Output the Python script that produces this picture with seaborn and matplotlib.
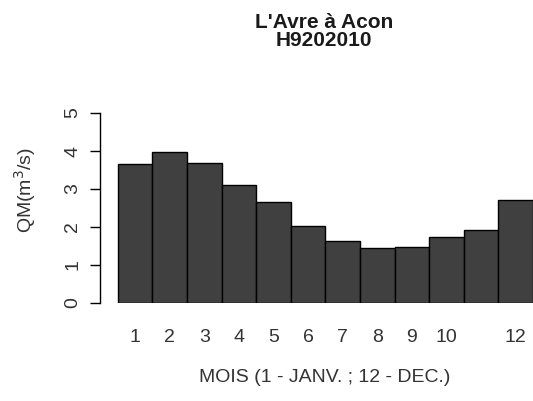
import matplotlib
matplotlib.use("Agg")
import matplotlib.pyplot as plt
import seaborn as sns
import pandas as pd

# monthly mean discharge (m3/s)
months = ["1", "2", "3", "4", "5", "6", "7", "8", "9", "10", "11", "12"]
qm = [3.65, 3.98, 3.69, 3.10, 2.67, 2.03, 1.63, 1.44, 1.48, 1.74, 1.93, 2.71]
# R dropped the "11" label because it would overlap
tick_labels = ["1", "2", "3", "4", "5", "6", "7", "8", "9", "10", "", "12"]
y_ticks = [0, 1, 2, 3, 4, 5]

title_1 = "L'Avre à Acon"
title_2 = "H9202010"

sns.set_style("white")
plt.rcParams["font.family"] = ["Liberation Sans", "DejaVu Sans"]
txt = "#333333"
fs = 14

df = pd.DataFrame({"mois": months, "qm": qm})

W, H = 533, 401
fig = plt.figure(figsize=(W / 100, H / 100), dpi=100)

# pixel geometry of the plot region
px_left, px_right = 100, 548
px_zero, unit = 303, 38.0
bar_w = 34.6
bar0_left = 117.7
ytop = 5.2

ax = fig.add_axes([px_left / W, (H - px_zero) / H,
                   (px_right - px_left) / W, ytop * unit / H])

sns.barplot(data=df, x="mois", y="qm", order=months, color="#404040",
            saturation=1, width=1, edgecolor="black", linewidth=1.0, ax=ax)

xl = -0.5 - (bar0_left - px_left) / bar_w
ax.set_xlim(xl, xl + (px_right - px_left) / bar_w)
ax.set_ylim(0, ytop)

for s in ["top", "right", "bottom"]:
    ax.spines[s].set_visible(False)
ax.spines["left"].set_bounds(0, 5)
ax.spines["left"].set_color("black")
ax.spines["left"].set_linewidth(1.0)

ax.set_yticks(y_ticks)
ax.set_yticklabels([str(v) for v in y_ticks], rotation=90, va="center",
                   fontsize=fs, color=txt)
ax.tick_params(axis="y", left=True, length=7.5, width=1.0, pad=6, color="black")

ax.set_xticks(range(len(months)))
ax.set_xticklabels(tick_labels, fontsize=fs, color=txt)
ax.tick_params(axis="x", bottom=False, length=0, pad=19)

ax.set_xlabel("MOIS (1 - JANV. ; 12 - DEC.)", fontsize=fs, color=txt)
ax.xaxis.set_label_coords((324.5 - px_left) / (px_right - px_left),
                          (px_zero - 377.5) / (ytop * unit))
ax.xaxis.label.set_va("center")

ax.set_ylabel("QM(m$^3$/s)", fontsize=fs, color=txt)
ax.yaxis.set_label_coords((25 - px_left) / (px_right - px_left),
                          (px_zero - 190) / (ytop * unit))
ax.yaxis.label.set_va("center")

fig.text(324 / W, 1 - 28 / H, title_1, ha="center", va="baseline",
         fontsize=15, fontweight="bold", color="#1a1a1a")
fig.text(324 / W, 1 - 46 / H, title_2, ha="center", va="baseline",
         fontsize=15, fontweight="bold", color="#1a1a1a")

fig.savefig("out.png", dpi=100)
